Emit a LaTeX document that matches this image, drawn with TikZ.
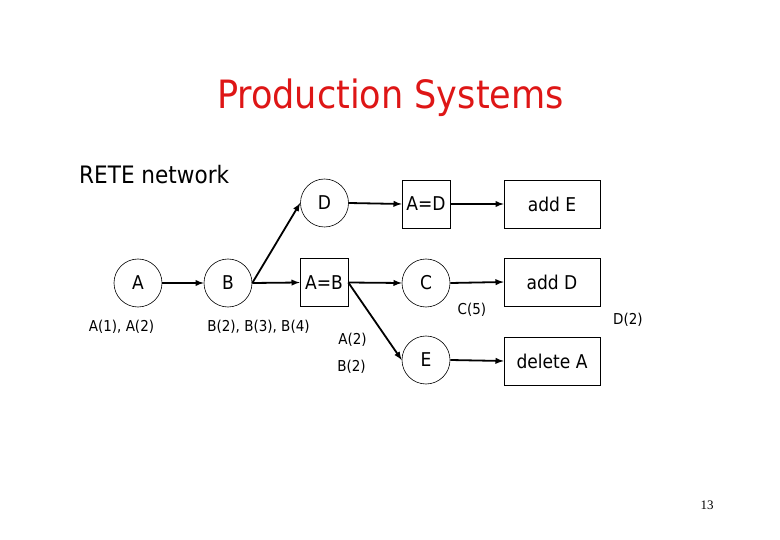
\documentclass[tikz,border=0pt]{standalone}
\usepackage{fontspec}
\setmainfont{DejaVu Sans Condensed}
\newfontfamily\pagefont{Liberation Serif}
\definecolor{titlered}{RGB}{222,22,22}

\begin{document}
\begin{tikzpicture}[x=10pt,y=10pt]
\tikzstyle{every node}+=[inner sep=0pt]
\tikzstyle{alphanode}=[draw=black,circle,minimum size=48pt,line width=0.6pt,font=\fontsize{19}{22}\selectfont]
\tikzstyle{joinbox}=[draw=black,rectangle,minimum width=48pt,minimum height=48pt,line width=0.6pt,font=\fontsize{19}{22}\selectfont]
\tikzstyle{rulebox}=[draw=black,rectangle,minimum width=96pt,minimum height=48pt,line width=0.6pt,font=\fontsize{19}{22}\selectfont]
\tikzstyle{tokenlabel}=[font=\fontsize{15}{18}\selectfont]
\tikzstyle{wirearrow}=[draw=black,line width=1.8pt,->,>=latex]
\useasboundingbox (0,0) rectangle (78,-54);
\node[text=titlered,font=\fontsize{39}{45}\selectfont,anchor=base] (title) at (39.05,-10.9) {Production Systems};
\node[font=\fontsize{24}{28}\selectfont,anchor=base west] (rete) at (7.9,-18.4) {RETE network};
\node[alphanode] (nodeA) at (13.8,-28.3) {A};
\node[alphanode] (nodeB) at (22.8,-28.3) {B};
\node[alphanode] (nodeD) at (32.45,-20.3) {D};
\node[joinbox] (AeqB) at (32.4,-28.25) {A=B};
\node[joinbox] (AeqD) at (42.6,-20.4) {A=D};
\node[rulebox] (addE) at (55.2,-20.4) {add E};
\node[alphanode] (nodeC) at (42.6,-28.3) {C};
\node[rulebox] (addD) at (55.2,-28.2) {add D};
\node[alphanode] (nodeE) at (42.6,-36.0) {E};
\node[rulebox] (delA) at (55.2,-36.1) {delete A};
\node[tokenlabel] (tokA) at (12.15,-32.7) {A(1), A(2)};
\node[tokenlabel] (tokB) at (25.85,-32.7) {B(2), B(3), B(4)};
\node[tokenlabel] (tokA2) at (35.25,-34.0) {A(2)};
\node[tokenlabel] (tokB2) at (35.15,-36.7) {B(2)};
\node[tokenlabel] (tokC) at (47.2,-31.0) {C(5)};
\node[tokenlabel] (tokD) at (62.8,-32.0) {D(2)};
\node[font=\pagefont\fontsize{13}{15}\selectfont] (page) at (70.7,-50.5) {13};
\draw[wirearrow] (nodeA.east) -- (nodeB.west);
\draw[wirearrow] (nodeB.east) -- (nodeD.west);
\draw[wirearrow] (nodeB.east) -- (AeqB.west);
\draw[wirearrow] (nodeD.east) -- (AeqD.west);
\draw[wirearrow] (AeqD.east) -- (addE.west);
\draw[wirearrow] (AeqB.east) -- (nodeC.west);
\draw[wirearrow] (AeqB.east) -- (nodeE.west);
\draw[wirearrow] (nodeC.east) -- (addD.west);
\draw[wirearrow] (nodeE.east) -- (delA.west);
\end{tikzpicture}
\end{document}
